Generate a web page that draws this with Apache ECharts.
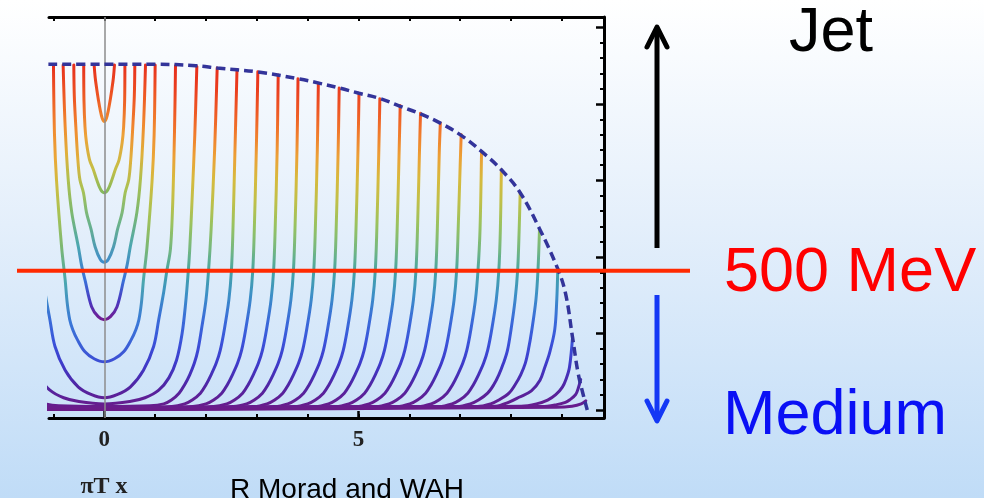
<!DOCTYPE html>
<html>
<head>
<meta charset="utf-8">
<script src="https://cdn.jsdelivr.net/npm/echarts@6/dist/echarts.min.js"></script>
<style>
html,body{margin:0;padding:0;}
body{width:984px;height:498px;overflow:hidden;background:linear-gradient(to bottom,#ffffff 0%,#e4effb 45%,#c0dcf7 100%);}
#chart{width:984px;height:498px;}
</style>
</head>
<body>
<div id="chart"></div>
<script>
// ---------- axis ticks / labels ----------
const X_MIN = -1.088, X_MAX = 9.829;
const Y_MIN = -0.1046, Y_MAX = 5.1372;
const X_TICKS = [-1,0,1,2,3,4,5,6,7,8,9];
const X_LABELS = [0,5];
const Y_MAJOR = [0,1,2,3,4,5];
const Y_MINOR = [0.2,0.4,0.6,0.8,1.2,1.4,1.6,1.8,2.2,2.4,2.6,2.8,3.2,3.4,3.6,3.8,4.2,4.4,4.6,4.8];
const THRESHOLD = 1.82;   // 500 MeV line

// ---------- string profiles (half curves, x >= 0, mirrored about x = 0) ----------
const C02 = [[0,3.77],[0.04,3.81],[0.08,3.92],[0.12,4.07],[0.15,4.2],[0.18,4.35],[0.2,4.51]];
const C04 = [[0,2.84],[0.07,2.88],[0.15,3.01],[0.22,3.15],[0.29,3.27],[0.35,3.49],[0.38,3.7],[0.4,4.05],[0.405,4.51]];
const C06 = [[0,1.93],[0.08,1.97],[0.18,2.13],[0.26,2.36],[0.35,2.58],[0.41,2.84],[0.48,3.01],[0.52,3.27],[0.56,3.7],[0.59,4.1],[0.6,4.51]];
const C08 = [[0,1.18],[0.12,1.22],[0.25,1.35],[0.38,1.7],[0.45,1.9],[0.51,2.13],[0.64,2.58],[0.71,3.01],[0.77,3.7],[0.81,4.51]];
const C10 = [[0,0.63],[0.2,0.67],[0.38,0.76],[0.53,0.92],[0.62,1.05],[0.68,1.18],[0.73,1.4],[0.77,1.7],[0.84,2.13],[0.94,3.0],[0.98,3.6],[1.0,4.51]];
const C14 = [[0,0.16],[0.25,0.2],[0.51,0.3],[0.77,0.52],[0.97,0.83],[1.07,1.18],[1.17,1.55],[1.23,1.82],[1.3,2.1],[1.34,2.6],[1.37,3.3],[1.39,4.0],[1.4,4.5]];
const C18 = [[0,0.08],[0.5,0.11],[0.8,0.16],[1.07,0.26],[1.27,0.42],[1.42,0.65],[1.53,1.0],[1.6,1.4],[1.65,1.8],[1.68,2.1],[1.73,2.8],[1.78,3.6],[1.82,4.49]];
const C22 = [[0,0.045],[0.9,0.055],[1.17,0.08],[1.32,0.13],[1.47,0.22],[1.58,0.33],[1.68,0.46],[1.77,0.61],[1.84,0.78],[1.91,1.05],[2.0,1.44],[2.05,1.82],[2.1,2.35],[2.17,3.4],[2.22,4.47]];
const C26 = [[0,0.03],[1.33,0.045],[1.58,0.08],[1.73,0.13],[1.89,0.22],[2.0,0.33],[2.1,0.46],[2.2,0.61],[2.28,0.78],[2.36,1.05],[2.45,1.44],[2.5,1.82],[2.53,2.35],[2.57,3.4],[2.61,4.45]];
const C30 = [[0,0.02],[1.74,0.045],[2.0,0.08],[2.15,0.13],[2.31,0.22],[2.42,0.33],[2.52,0.46],[2.62,0.61],[2.7,0.78],[2.78,1.05],[2.87,1.44],[2.92,1.82],[2.95,2.35],[2.99,3.4],[3.02,4.42]];
const C34 = [[0,0.015],[2.15,0.045],[2.41,0.08],[2.56,0.13],[2.72,0.22],[2.83,0.33],[2.93,0.46],[3.03,0.61],[3.11,0.78],[3.19,1.05],[3.28,1.44],[3.33,1.82],[3.36,2.35],[3.4,3.4],[3.42,4.38]];
const C38 = [[0,0.01],[2.54,0.045],[2.8,0.08],[2.95,0.13],[3.11,0.22],[3.22,0.33],[3.32,0.46],[3.42,0.61],[3.5,0.78],[3.58,1.05],[3.67,1.44],[3.72,1.82],[3.75,2.35],[3.79,3.4],[3.81,4.33]];
const C42 = [[0,0.02],[2.94,0.045],[3.2,0.08],[3.35,0.13],[3.51,0.22],[3.62,0.33],[3.72,0.46],[3.82,0.61],[3.9,0.78],[3.98,1.05],[4.07,1.44],[4.12,1.82],[4.15,2.35],[4.19,3.4],[4.21,4.27]];
const C46 = [[0,0.01],[3.35,0.045],[3.61,0.08],[3.76,0.13],[3.92,0.22],[4.03,0.33],[4.13,0.46],[4.23,0.61],[4.31,0.78],[4.39,1.05],[4.48,1.44],[4.53,1.82],[4.56,2.35],[4.6,3.4],[4.62,4.21]];
const C50 = [[0,0.02],[3.74,0.045],[4.0,0.08],[4.15,0.13],[4.31,0.22],[4.42,0.33],[4.52,0.46],[4.62,0.61],[4.7,0.78],[4.78,1.05],[4.87,1.44],[4.92,1.82],[4.95,2.35],[4.99,3.4],[5.01,4.14]];
const C54 = [[0,0.01],[4.15,0.045],[4.41,0.08],[4.56,0.13],[4.72,0.22],[4.83,0.33],[4.93,0.46],[5.03,0.61],[5.11,0.78],[5.19,1.05],[5.28,1.44],[5.33,1.82],[5.36,2.35],[5.4,3.4],[5.42,4.07]];
const C58 = [[0,0.02],[4.55,0.045],[4.81,0.08],[4.96,0.13],[5.12,0.22],[5.23,0.33],[5.33,0.46],[5.43,0.61],[5.51,0.78],[5.59,1.05],[5.68,1.44],[5.73,1.82],[5.76,2.35],[5.8,3.4],[5.82,3.98]];
const C62 = [[0,0.01],[4.95,0.045],[5.21,0.08],[5.36,0.13],[5.52,0.22],[5.63,0.33],[5.73,0.46],[5.83,0.61],[5.91,0.78],[5.99,1.05],[6.08,1.44],[6.13,1.82],[6.16,2.35],[6.2,3.4],[6.22,3.88]];
const C66 = [[0,0.02],[5.34,0.045],[5.6,0.08],[5.75,0.13],[5.91,0.22],[6.02,0.33],[6.12,0.46],[6.22,0.61],[6.3,0.78],[6.38,1.05],[6.47,1.44],[6.52,1.82],[6.55,2.35],[6.59,3.4],[6.61,3.75]];
const C70 = [[0,0.01],[5.75,0.045],[6.01,0.08],[6.16,0.13],[6.32,0.22],[6.43,0.33],[6.53,0.46],[6.63,0.61],[6.71,0.78],[6.79,1.05],[6.88,1.44],[6.93,1.82],[6.96,2.35],[7.0,3.2],[7.02,3.6]];
const C74 = [[0,0.02],[6.17,0.045],[6.43,0.08],[6.58,0.13],[6.74,0.22],[6.85,0.33],[6.95,0.46],[7.05,0.61],[7.13,0.78],[7.21,1.05],[7.3,1.44],[7.35,1.82],[7.39,2.35],[7.42,3.38]];
const C78 = [[0,0.01],[6.58,0.045],[6.84,0.08],[6.99,0.13],[7.15,0.22],[7.26,0.33],[7.36,0.46],[7.46,0.61],[7.54,0.78],[7.62,1.05],[7.71,1.44],[7.76,1.82],[7.79,2.35],[7.81,3.14]];
const C82 = [[0,0.02],[6.93,0.045],[7.2,0.08],[7.36,0.13],[7.54,0.22],[7.66,0.33],[7.76,0.46],[7.85,0.61],[7.93,0.78],[8.0,1.05],[8.08,1.44],[8.13,1.82],[8.16,2.35],[8.18,2.84]];
const C86 = [[0,0.01],[7.34,0.045],[7.6,0.08],[7.76,0.13],[7.96,0.22],[8.08,0.33],[8.19,0.46],[8.28,0.61],[8.34,0.78],[8.41,1.05],[8.49,1.44],[8.53,1.82],[8.56,2.36]];
const C89 = [[0,0.02],[7.7,0.05],[7.95,0.1],[8.17,0.17],[8.4,0.25],[8.57,0.39],[8.66,0.55],[8.76,0.75],[8.86,1.05],[8.9,1.44],[8.92,1.85]];
const C92 = [[0,0.01],[8.2,0.05],[8.5,0.08],[8.72,0.13],[8.88,0.2],[9.01,0.3],[9.08,0.4],[9.15,0.56],[9.21,0.95]];
const C94 = [[0,0.02],[8.6,0.045],[8.9,0.07],[9.07,0.1],[9.15,0.13],[9.27,0.2],[9.33,0.3],[9.37,0.4]];
const C95 = [[0,0.01],[8.9,0.035],[9.2,0.05],[9.38,0.08],[9.47,0.12]];

// envelope (dashed) of the string endpoints
const ENVELOPE = [[-1.1,4.52],[0,4.52],[1.0,4.52],[1.8,4.5],[2.22,4.47],[3.0,4.42],[3.81,4.33],[4.24,4.27],[4.62,4.21],[5.01,4.14],[5.43,4.07],[5.82,3.97],[6.22,3.87],[6.61,3.75],[7.02,3.59],[7.42,3.38],[7.81,3.14],[8.18,2.84],[8.56,2.37],[8.91,1.86],[9.07,1.53],[9.21,0.95],[9.32,0.48],[9.42,0.2],[9.5,0.0]];

const SMALL_CURVES = [C02,C04,C06,C08,C10];
const LARGE_CURVES = [C14,C18,C22,C26,C30,C34,C38,C42,C46,C50,C54,C58,C62,C66,C70,C74,C78,C82,C86,C89,C92,C94,C95];

// ---------- styles ----------
const RED0 = '#e62c1c';
const SMALL_STOPS = [
  [[0,RED0],[0.6,'#ee5a24'],[1,'#f0922e']],
  [[0,RED0],[0.3,'#ee6226'],[0.55,'#eda238'],[0.8,'#c6be46'],[1,'#7cb85e']],
  [[0,RED0],[0.18,'#ee5624'],[0.33,'#f08a30'],[0.48,'#e0b03c'],[0.63,'#a8c254'],[0.79,'#6cb488'],[1,'#3a8ad0']],
  [[0,RED0],[0.12,'#ee5624'],[0.24,'#f08a30'],[0.35,'#e0b03c'],[0.45,'#b0c04e'],[0.58,'#7cb870'],[0.71,'#4aa6b2'],[0.84,'#3a70d8'],[0.92,'#4a38c0'],[1,'#78188a']],
  [[0,RED0],[0.1,'#ee5624'],[0.22,'#f08a30'],[0.32,'#eaa838'],[0.4,'#d0bc40'],[0.5,'#a8c254'],[0.61,'#7cb872'],[0.73,'#4aa6b0'],[0.86,'#3a78d8'],[1,'#3c4cd4']]
];
const DEPTH_COLORS = ['#6c1a88','#5124a2','#3e3aca','#3a54da','#3a6ed8','#3c90c6','#46a4a6','#76b87e','#98c260','#bec04a','#d6ba3e','#eca036','#f07a2c','#ee5624','#ea3c1e','#e62c1c'];

function mirror(half){
  const left = half.slice(1).map(p => [-p[0], p[1]]).reverse();
  return left.concat(half);
}

const chart = echarts.init(document.getElementById('chart'), null, {renderer:'canvas'});

const SMOOTH = 0.35;
const series = [];
SMALL_CURVES.forEach((h,i) => {
  series.push({
    type:'line', xAxisIndex:0, yAxisIndex:0, data:mirror(h),
    showSymbol:false, smooth:SMOOTH, silent:true, z:2,
    lineStyle:{width:3, cap:'round', join:'round', color:new echarts.graphic.LinearGradient(0,0,0,1,
      SMALL_STOPS[i].map(s => ({offset:s[0], color:s[1]})))}
  });
});
const largeIdx = [];
LARGE_CURVES.forEach(h => {
  largeIdx.push(series.length);
  series.push({
    type:'line', xAxisIndex:0, yAxisIndex:0, data:mirror(h),
    showSymbol:false, smooth:SMOOTH, silent:true, z:2,
    lineStyle:{width:3, cap:'round', join:'round'}
  });
});
series.push({
  type:'line', xAxisIndex:0, yAxisIndex:0, data:ENVELOPE,
  showSymbol:false, smooth:0.4, silent:true, z:5,
  lineStyle:{width:3.5, type:[9,5], color:'#33349a'},
  markLine:{symbol:'none', silent:true, label:{show:false}, animation:false,
    lineStyle:{color:'#8c8c8c', width:1.5, type:'solid'}, data:[{xAxis:0}]}
});
series.push({
  type:'line', xAxisIndex:3, yAxisIndex:3, data:[[0,THRESHOLD],[1,THRESHOLD]],
  showSymbol:false, silent:true, z:6, lineStyle:{width:4, color:'#ff2a00'}
});

const axisBlack = {color:'#000', width:3};
const option = {
  animation:false,
  backgroundColor:'transparent',
  grid:[
    {left:49, right:380, top:17, bottom:80, outerBoundsMode:'none', containLabel:false},
    {left:17, right:294, top:17, bottom:80, outerBoundsMode:'none', containLabel:false}
  ],
  xAxis:[
    {gridIndex:0, type:'value', position:'bottom', min:X_MIN, max:X_MAX,
      axisLine:{show:true, onZero:false, lineStyle:axisBlack},
      axisTick:{show:true, inside:true, length:4, customValues:X_TICKS, lineStyle:{color:'#000', width:2}},
      axisLabel:{show:false}, splitLine:{show:false}},
    {gridIndex:0, type:'value', position:'bottom', min:X_MIN, max:X_MAX,
      axisLine:{show:false, onZero:false},
      axisTick:{show:true, inside:true, length:7, customValues:X_LABELS, lineStyle:{color:'#000', width:2.5}},
      axisLabel:{show:true, customValues:X_LABELS, margin:11, color:'#222',
        fontFamily:'"Liberation Serif", "DejaVu Serif", serif', fontWeight:'bold', fontSize:23},
      splitLine:{show:false}},
    {gridIndex:0, type:'value', position:'top', min:X_MIN, max:X_MAX,
      axisLine:{show:true, onZero:false, lineStyle:axisBlack},
      axisTick:{show:true, inside:true, length:4, customValues:X_TICKS, lineStyle:{color:'#000', width:2}},
      axisLabel:{show:false}, splitLine:{show:false}},
    {gridIndex:1, type:'value', min:0, max:1, show:false}
  ],
  yAxis:[
    {gridIndex:0, type:'value', position:'left', min:Y_MIN, max:Y_MAX,
      axisLine:{show:false, onZero:false}, axisTick:{show:false}, axisLabel:{show:false}, splitLine:{show:false}},
    {gridIndex:0, type:'value', position:'right', min:Y_MIN, max:Y_MAX,
      axisLine:{show:true, onZero:false, lineStyle:axisBlack},
      axisTick:{show:true, inside:true, length:4, customValues:Y_MINOR, lineStyle:{color:'#000', width:2}},
      axisLabel:{show:false}, splitLine:{show:false}},
    {gridIndex:0, type:'value', position:'right', min:Y_MIN, max:Y_MAX,
      axisLine:{show:false, onZero:false},
      axisTick:{show:true, inside:true, length:8, customValues:Y_MAJOR, lineStyle:{color:'#000', width:2.5}},
      axisLabel:{show:false}, splitLine:{show:false}},
    {gridIndex:1, type:'value', min:Y_MIN, max:Y_MAX, show:false}
  ],
  visualMap:[{
    type:'continuous', show:false, dimension:1, min:0, max:4.52,
    seriesIndex:largeIdx, inRange:{color:DEPTH_COLORS}
  }],
  graphic:[
    {type:'polyline', silent:true, shape:{points:[[657,248],[657,29]]}, style:{stroke:'#000', lineWidth:5, fill:null}},
    {type:'polyline', silent:true, shape:{points:[[647,47],[657,27],[667,47]]}, style:{stroke:'#000', lineWidth:5, fill:null, lineJoin:'round', lineCap:'round'}},
    {type:'polyline', silent:true, shape:{points:[[657,295],[657,418]]}, style:{stroke:'#1438f5', lineWidth:5, fill:null}},
    {type:'polyline', silent:true, shape:{points:[[647,401],[657,421],[667,401]]}, style:{stroke:'#1438f5', lineWidth:5, fill:null, lineJoin:'round', lineCap:'round'}},
    {type:'text', silent:true, x:789, y:34, style:{text:'Jet', fill:'#000', font:'63px "Liberation Sans", Arial, sans-serif', textAlign:'left', align:'left', textVerticalAlign:'middle', verticalAlign:'middle'}},
    {type:'text', silent:true, x:724, y:274, style:{text:'500 MeV', fill:'#ff0000', font:'63px "Liberation Sans", Arial, sans-serif', textAlign:'left', align:'left', textVerticalAlign:'middle', verticalAlign:'middle'}},
    {type:'text', silent:true, x:723, y:417, style:{text:'Medium', fill:'#0a10f5', font:'63px "Liberation Sans", Arial, sans-serif', textAlign:'left', align:'left', textVerticalAlign:'middle', verticalAlign:'middle'}},
    {type:'text', silent:true, x:104, y:487, style:{text:'\u03c0T x', fill:'#222', font:'bold 24px "Liberation Serif", "DejaVu Serif", serif', textAlign:'center', align:'center', textVerticalAlign:'middle', verticalAlign:'middle'}},
    {type:'text', silent:true, x:230, y:490, style:{text:'R Morad and WAH', fill:'#000', font:'28px "Liberation Sans", Arial, sans-serif', textAlign:'left', align:'left', textVerticalAlign:'middle', verticalAlign:'middle'}}
  ],
  series:series
};
chart.setOption(option);
</script>
</body>
</html>
